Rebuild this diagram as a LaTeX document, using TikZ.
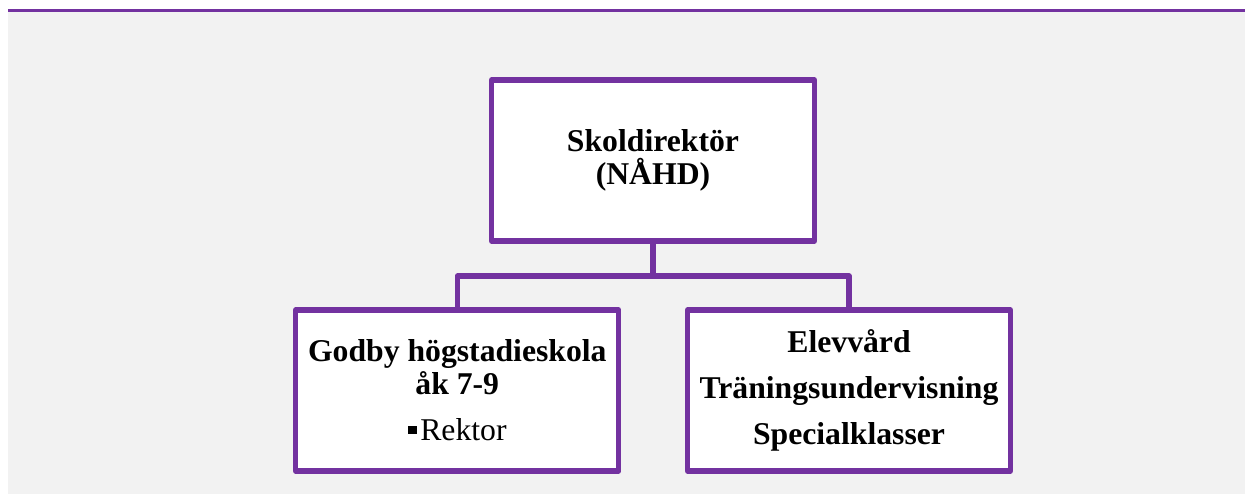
\documentclass[tikz,border=0pt]{standalone}
\usepackage{fontspec}
\setmainfont{Liberation Serif}
\definecolor{orgpurple}{RGB}{115,50,160}
\definecolor{orggray}{RGB}{242,242,242}

\begin{document}
\begin{tikzpicture}[x=1pt,y=1pt,
  unit/.style={draw=orgpurple,line width=5.3pt,fill=white,line join=round,
    minimum width=323pt,minimum height=161pt,inner sep=0pt,align=center,
    font=\fontsize{31.7}{33}\selectfont\bfseries},
  link/.style={draw=orgpurple,line width=5.3pt,line join=round}]
\useasboundingbox (0,0) rectangle (1245,494);
\fill[orggray] (8,0) rectangle (1245,482);
\draw[orgpurple,line width=3pt] (8,483.5) -- (1245,483.5);

\node[unit] (chief) at (653,333.5) {Skoldirektör\\(NÅHD)};
\node[unit] (school) at (457.3,103.5) {Godby högstadieskola\\åk 7-9\\[13pt]
  {\mdseries\raisebox{6.6pt}{\rule{9.3pt}{8.7pt}}\hspace{3pt}Rektor}};
\node[unit] (care) at (849,103.5) {Elevvård\\[12.7pt]Träningsundervisning\\[12.7pt]Specialklasser};

\coordinate (bar) at (653,218);
\draw[link] (chief.south) -- (bar);
\draw[link] (school.north) |- (bar) -| (care.north);
\end{tikzpicture}
\end{document}
